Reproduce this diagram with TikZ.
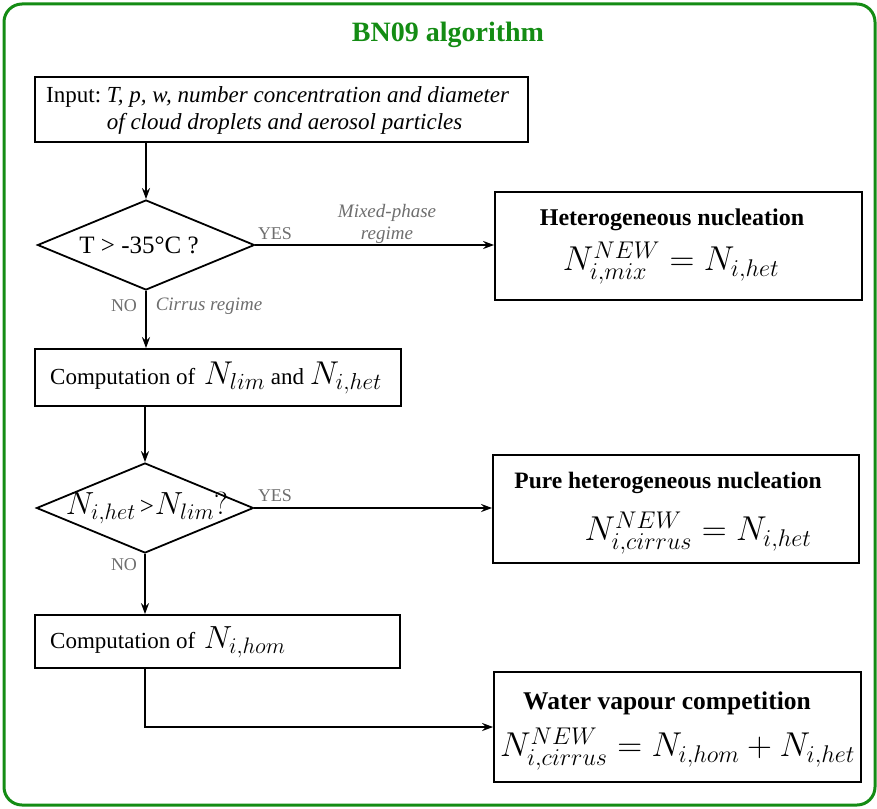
\RequirePackage{fix-cm}
\documentclass[tikz,border=0pt]{standalone}
\usepackage{fontspec}
\setmainfont{Liberation Serif}
\usetikzlibrary{shapes.geometric,arrows.meta}
\definecolor{bngreen}{RGB}{20,140,20}
\definecolor{lblgray}{RGB}{110,110,110}
\begin{document}
\begin{tikzpicture}[x=1pt,y=-1pt,
  box/.style={draw,line width=1.8pt,rectangle,inner sep=0pt},
  dia/.style={draw,line width=1.8pt,diamond,inner sep=0pt,minimum width=217pt,minimum height=90pt,aspect=2.4},
  conn/.style={line width=1.8pt,-{Stealth[length=11pt,width=8pt]}},
  lbl/.style={text=lblgray,font=\fontsize{18}{21}\selectfont,inner sep=0pt},
  ilbl/.style={text=lblgray,font=\fontsize{19}{22}\selectfont\itshape,inner sep=0pt,align=center},
  main/.style={font=\fontsize{23}{27}\selectfont},
  head/.style={font=\fontsize{24}{28}\selectfont\bfseries,inner sep=0pt},
  frm/.style={inner sep=0pt,font=\fontsize{34.5}{38}\selectfont}]
\useasboundingbox (0,0) rectangle (877,808);
\draw[bngreen,line width=3pt,rounded corners=18pt] (4,4) rectangle (875,805);
\node[text=bngreen,font=\fontsize{28}{31}\selectfont\bfseries] (title) at (448,35) {BN09 algorithm};

\node[box,minimum width=493pt,minimum height=65pt] (input) at (281.5,109.5) {};
\node[main,anchor=west,inner sep=0pt] (inputtxt) at (46,111)
 {\begin{tabular}{@{}l@{\ }l@{}}Input: & \itshape T, p, w, number concentration and diameter\\ & \itshape of cloud droplets and aerosol particles\end{tabular}};

\node[dia] (d1) at (146,245) {};
\node[font=\fontsize{25}{28}\selectfont,inner sep=0pt] (d1txt) at (139,245) {T > -35°C ?};

\node[box,minimum width=367pt,minimum height=108pt] (het) at (678.5,246) {};
\node[head] (hethead) at (672,220) {Heterogeneous nucleation};
\node[frm] (hetfrm) at (671,263) {$N_{i,mix}^{NEW}=N_{i,het}$};

\node[box,minimum width=366pt,minimum height=57pt] (comp1) at (218,377.5) {};
\node[main,anchor=west,inner sep=0pt] (comp1txt) at (50,378)
 {Computation of \kern3pt{\fontsize{33}{36}\selectfont$N_{lim}$} and {\fontsize{33}{36}\selectfont$N_{i,het}$}};

\node[dia] (d2) at (145,508) {};
\node[inner sep=0pt,font=\fontsize{32}{34}\selectfont] (d2txt) at (147,508) {$N_{i,het}$\kern4pt{\fontsize{25}{28}\selectfont >}\kern1pt$N_{lim}?$};

\node[box,minimum width=366pt,minimum height=108pt] (pure) at (676,509) {};
\node[head,font=\fontsize{23.5}{28}\selectfont\bfseries] (purehead) at (668,483) {Pure heterogeneous nucleation};
\node[frm] (purefrm) at (698,533) {$N_{i,cirrus}^{NEW}=N_{i,het}$};

\node[box,minimum width=365pt,minimum height=53pt] (comp2) at (217.5,641.5) {};
\node[main,anchor=west,inner sep=0pt] (comp2txt) at (50,642)
 {Computation of \kern3pt{\fontsize{32}{35}\selectfont$N_{i,hom}$}};

\node[box,minimum width=367pt,minimum height=110pt] (water) at (677.5,727) {};
\node[head,font=\fontsize{25.5}{28}\selectfont\bfseries] (waterhead) at (667,703) {Water vapour competition};
\node[frm] (waterfrm) at (677.5,749) {$N_{i,cirrus}^{NEW}=N_{i,hom}+N_{i,het}$};

\draw[conn] (input.south -| d1.north) -- (d1.north);
\draw[conn] (d1.east) -- (d1.east -| het.west);
\draw[conn] (d1.south) -- (d1.south |- comp1.north);
\draw[conn] (comp1.south -| d2.north) -- (d2.north);
\draw[conn] (d2.east) -- (d2.east -| pure.west);
\draw[conn] (d2.south) -- (d2.south |- comp2.north);
\draw[conn] (comp2.south -| d2.south) |- (water.west);

\node[lbl] (yes1) at (275,234) {YES};
\node[ilbl] (mix) at (387,224) {Mixed-phase\\regime};
\node[lbl] (no1) at (124,306) {NO};
\node[ilbl] (cir) at (209,306) {Cirrus regime};
\node[lbl] (yes2) at (275,496) {YES};
\node[lbl] (no2) at (124,565) {NO};
\end{tikzpicture}
\end{document}
